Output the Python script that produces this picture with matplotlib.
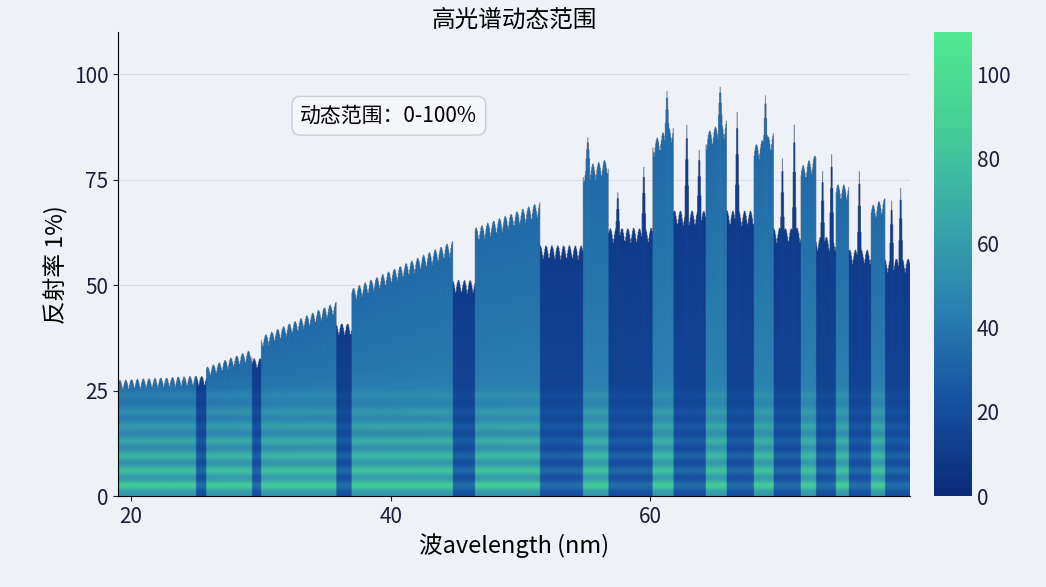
import numpy as np
import matplotlib
matplotlib.use("Agg")
import matplotlib.pyplot as plt
from matplotlib.colors import LinearSegmentedColormap

plt.rcParams['font.family'] = ['Noto Sans CJK SC', 'DejaVu Sans']

# bright spectral segments: start, end, height at start, height at end
bright_start = [19.0, 25.8, 30.0, 37.0, 46.5, 54.8, 60.2, 64.3, 68.0, 71.6, 74.3, 77.0]
bright_end   = [25.0, 29.3, 35.8, 44.8, 51.5, 56.8, 61.8, 65.9, 69.5, 72.8, 75.3, 78.1]
bright_h0    = [25, 28, 35, 46, 60, 74, 80, 82, 79, 74, 70, 65]
bright_h1    = [26, 32, 43, 57, 66, 76, 84, 85, 82, 77, 70, 67]
# dark gap heights between/after bright segments
gap_h = [26, 30, 38, 48, 56, 60, 64, 64, 60, 58, 55, 53]
# sharp spikes in the dark region
spike_x = [55.2, 57.5, 59.5, 61.3, 62.8, 63.8, 65.4, 66.7, 68.9, 70.2, 71.1, 73.3, 74.0, 76.1, 78.6, 79.3]
spike_h = [85, 72, 78, 96, 88, 82, 97, 91, 95, 80, 88, 77, 81, 77, 70, 73]
# horizontal bright bands (reflectance level)
band_y = [2.5, 6, 9.5, 13, 16.5, 20, 24]

xs = np.linspace(19, 80, 1400)
env = np.zeros_like(xs)
bright = np.zeros_like(xs, dtype=bool)
for i in range(len(bright_start)):
    m = (xs >= bright_start[i]) & (xs <= bright_end[i])
    env[m] = np.interp(xs[m], [bright_start[i], bright_end[i]], [bright_h0[i], bright_h1[i]])
    bright |= m
    nxt = bright_start[i + 1] if i + 1 < len(bright_start) else 80.1
    g = (xs > bright_end[i]) & (xs < nxt)
    env[g] = gap_h[i]
ripple = 1.6 * np.abs(np.sin(xs * np.pi / 0.45)) * (1 + env / 50)
env = env + ripple
for sx, sh in zip(spike_x, spike_h):
    k = np.argmin(np.abs(xs - sx))
    b = env[k]
    env[k - 3:k + 4] = [b + (sh - b) * w for w in (0.3, 0.6, 0.85, 1.0, 0.85, 0.6, 0.3)]

ys = np.linspace(0, 110, 550)
X, Y = np.meshgrid(xs, ys)
bw = bright[None, :]
bands = np.zeros_like(Y)
for by in band_y:
    bands += np.exp(-((Y - by) / 1.1) ** 2)
fade = np.clip(1 - Y / 30, 0, 1)
rel = Y / np.maximum(env, 1)[None, :]
Z = np.where(bw, 50.0, 18.0) - np.where(bw, 16, 8) * rel
Z = Z + bands * np.where(bw, 32, 16) * fade + np.where(bw, 8, 4) * fade
Z = np.ma.masked_where(Y > env[None, :], Z)

cmap = LinearSegmentedColormap.from_list(
    "spec", ["#0b2a78", "#1650a0", "#2a7fb0", "#38a8a8", "#46cf96", "#50e890"])
bg = "#eef2f8"

fig = plt.figure(figsize=(10.46, 5.87), dpi=100, facecolor=bg)
ax = fig.add_axes([0.113, 0.155, 0.757, 0.79], facecolor=bg)
cax = fig.add_axes([0.893, 0.155, 0.036, 0.79])

ax.grid(axis="y", color="#d8dde6", lw=0.8, zorder=0)
im = ax.imshow(Z, extent=[19, 80, 0, 110], origin="lower", aspect="auto",
               cmap=cmap, vmin=0, vmax=110, interpolation="bilinear", zorder=2)
ax.set_xlim(19, 80)
ax.set_ylim(0, 110)
ax.set_yticks([0, 25, 50, 75, 100])
ax.set_xticks([20, 40, 60])
ax.set_axisbelow(True)
for s in ["top", "right"]:
    ax.spines[s].set_visible(False)
ax.tick_params(labelsize=15, colors="#1a1f3a")
ax.set_title("高光谱动态范围", fontsize=17, pad=4)
ax.set_xlabel("波avelength (nm)", fontsize=17)
ax.set_ylabel("反射率 1%)", fontsize=17)
ax.text(0.23, 0.82, "动态范围：0-100%", transform=ax.transAxes, fontsize=15,
        va="center", zorder=5,
        bbox=dict(boxstyle="round,pad=0.4", fc="#f4f6fa", ec="#c8ccd4"))

cb = fig.colorbar(im, cax=cax, ticks=[0, 20, 40, 60, 80, 100])
cb.outline.set_visible(False)
cax.tick_params(labelsize=15, length=0, colors="#1a1f3a")

fig.savefig("out.png", dpi=100, facecolor=bg)
